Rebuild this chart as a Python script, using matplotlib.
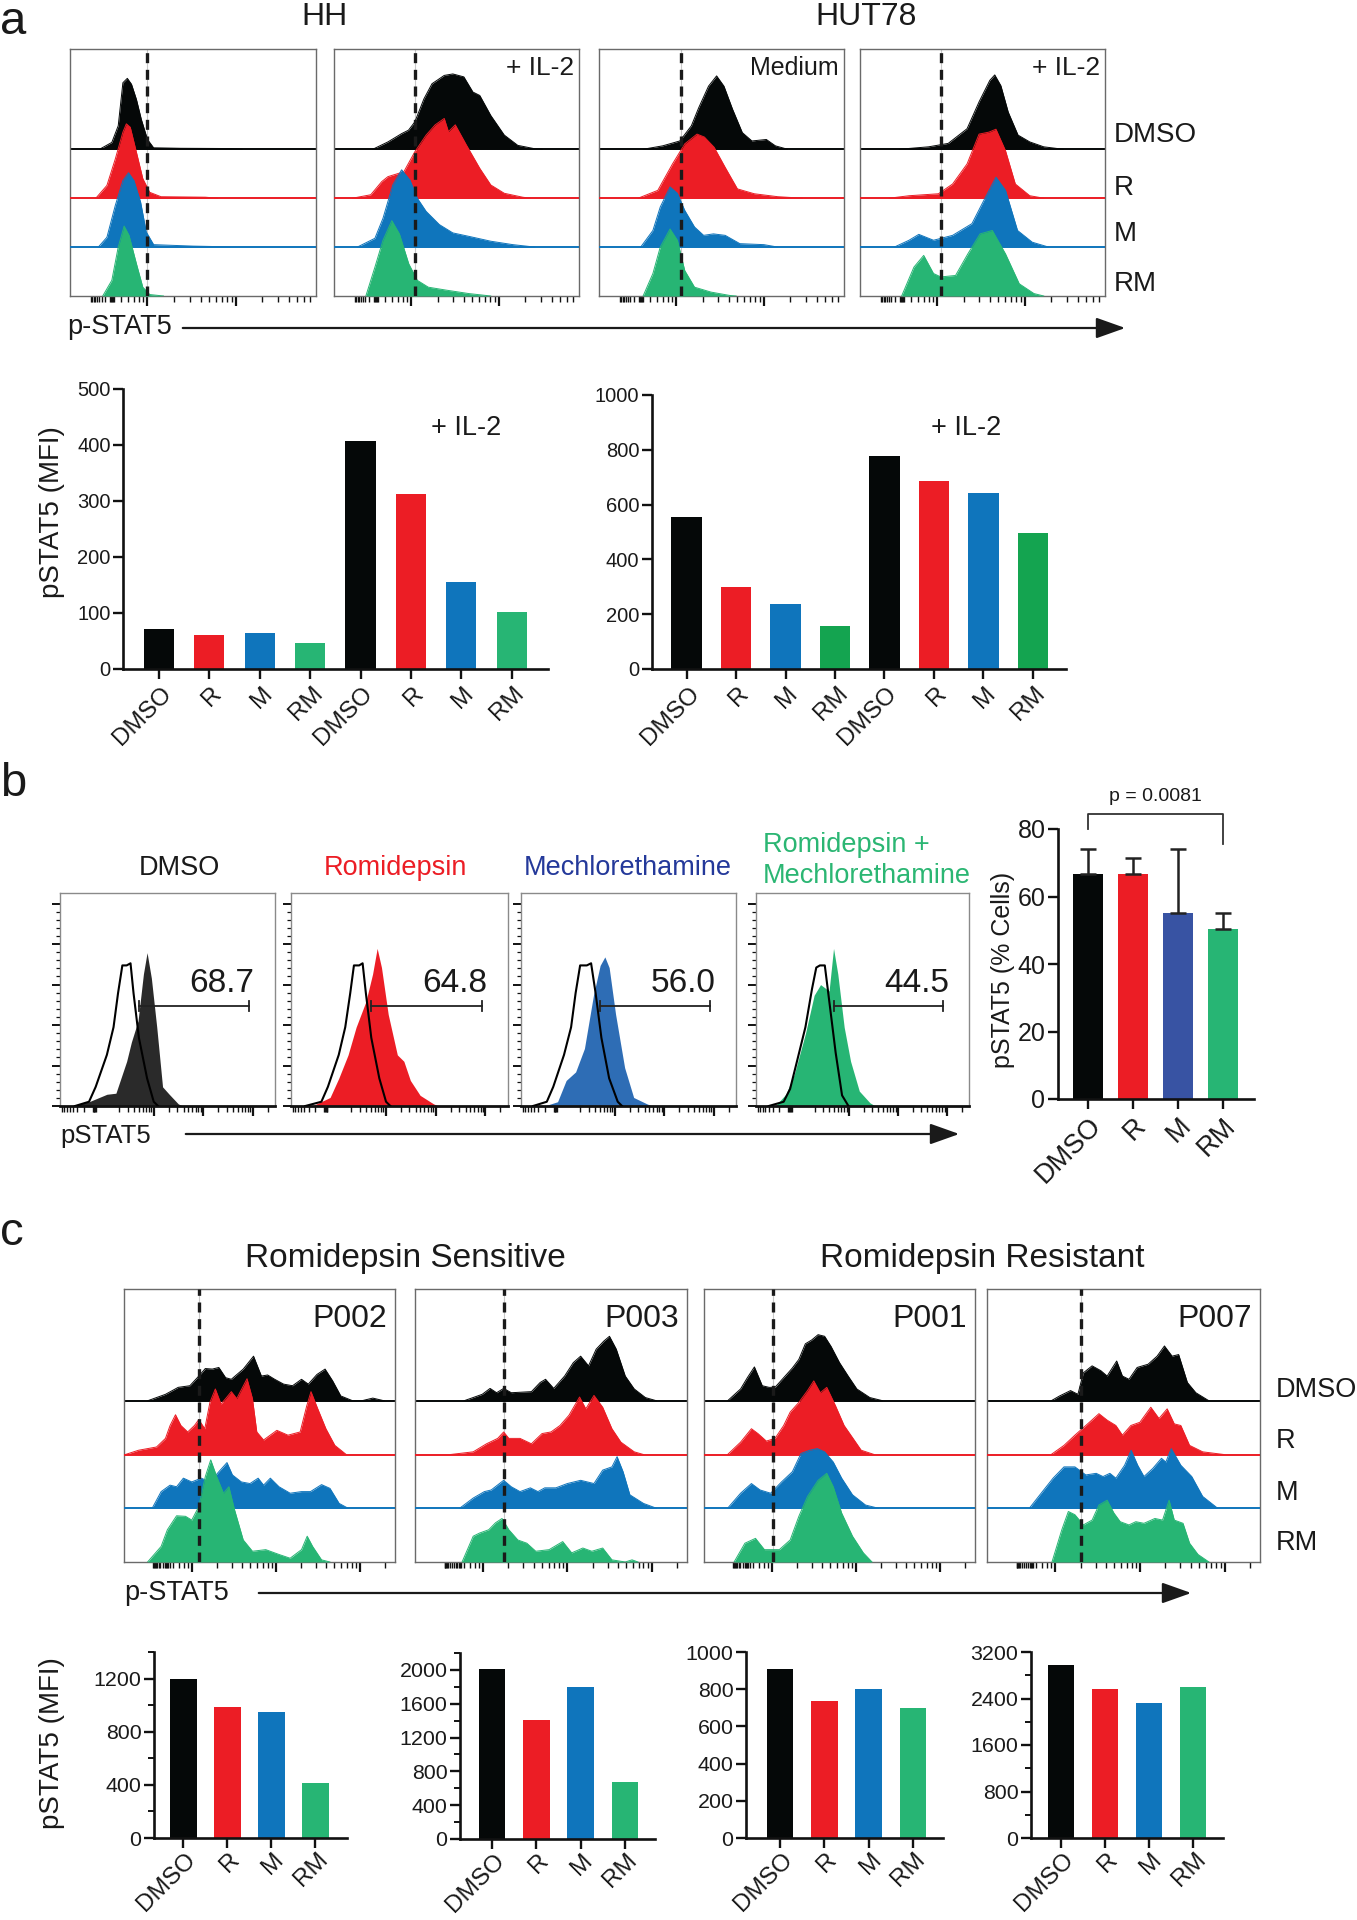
import numpy as np
import matplotlib
matplotlib.use('Agg')
import matplotlib.pyplot as plt
from matplotlib import font_manager as fm
from matplotlib.patches import FancyArrowPatch
from matplotlib.transforms import blended_transform_factory, ScaledTranslation

plt.rcParams['font.family'] = ['Liberation Sans', 'DejaVu Sans']
_names = {f.name for f in fm.fontManager.ttflist}
NARROW = 'Liberation Sans Narrow' if 'Liberation Sans Narrow' in _names else 'Liberation Sans'
NSCALE = 1.0 if NARROW == 'Liberation Sans Narrow' else 0.88

# ---------------- data ----------------
TREATMENTS = ['DMSO', 'R', 'M', 'RM']

# panel a bar values (MFI)
A_HH_MFI = [71, 60.5, 64, 46, 408, 312, 155, 102]
A_HUT_MFI = [556, 299, 237, 156, 779, 687, 642, 497]

# panel b
B_PCT = [66.8, 66.8, 55.0, 50.3]
B_ERR = [7.2, 4.7, 19.0, 4.7]
B_GATE_PCT = ['68.7', '64.8', '56.0', '44.5']
B_TITLES = ['DMSO', 'Romidepsin', 'Mechlorethamine', 'Romidepsin +\nMechlorethamine']
B_PVALUE = 'p = 0.0081'

# panel c bar values (MFI)
C_P002_MFI = [1197, 983, 950, 411]
C_P003_MFI = [2010, 1408, 1795, 670]
C_P001_MFI = [910, 737, 800, 698]
C_P007_MFI = [2981, 2561, 2319, 2596]
C_PATIENTS = ['P002', 'P003', 'P001', 'P007']

# histogram traces: (x fraction of box, height in row units)
A_HH_MED_DMSO = [(0.12,0),(0.17,0.14),(0.196,0.48),(0.215,1.36),(0.233,1.45),(0.25,1.33),(0.27,1.02),(0.29,0.61),(0.315,0.2),(0.34,0.03),(0.45,0.02),(0.65,0.015),(0.7,0)]
A_HH_MED_R = [(0.105,0),(0.15,0.26),(0.184,0.8),(0.215,1.35),(0.229,1.52),(0.245,1.45),(0.27,0.94),(0.296,0.4),(0.324,0.12),(0.37,0.03),(0.55,0.02),(0.6,0)]
A_HH_MED_M = [(0.115,0),(0.15,0.2),(0.184,0.85),(0.215,1.36),(0.238,1.52),(0.26,1.36),(0.287,0.92),(0.31,0.31),(0.34,0.05),(0.5,0.02),(0.6,0.01),(0.65,0)]
A_HH_MED_RM = [(0.133,0),(0.17,0.32),(0.196,1.0),(0.22,1.43),(0.24,1.24),(0.27,0.66),(0.296,0.18),(0.324,0.03),(0.38,0)]

A_HH_IL2_DMSO = [(0.158,0),(0.22,0.15),(0.276,0.32),(0.304,0.39),(0.33,0.56),(0.367,1.03),(0.4,1.34),(0.45,1.51),(0.485,1.54),(0.53,1.48),(0.567,1.17),(0.595,1.1),(0.64,0.69),(0.695,0.29),(0.75,0.08),(0.82,0.01),(0.85,0)]
A_HH_IL2_R = [(0.076,0),(0.15,0.07),(0.195,0.34),(0.22,0.44),(0.285,0.54),(0.33,0.95),(0.376,1.29),(0.413,1.5),(0.45,1.63),(0.467,1.36),(0.495,1.5),(0.54,1.09),(0.595,0.61),(0.64,0.27),(0.695,0.1),(0.77,0.02),(0.8,0)]
A_HH_IL2_M = [(0.095,0),(0.167,0.18),(0.2,0.59),(0.24,1.27),(0.276,1.58),(0.31,1.37),(0.34,1.0),(0.376,0.73),(0.43,0.46),(0.485,0.29),(0.55,0.22),(0.64,0.12),(0.73,0.05),(0.82,0)]
A_HH_IL2_RM = [(0.13,0),(0.167,0.59),(0.2,1.14),(0.236,1.54),(0.267,1.27),(0.305,0.66),(0.34,0.32),(0.385,0.18),(0.458,0.12),(0.55,0.05),(0.64,0)]

A_HUT_MED_DMSO = [(0.18,0),(0.26,0.07),(0.33,0.17),(0.377,0.48),(0.407,0.85),(0.447,1.29),(0.48,1.5),(0.51,1.29),(0.545,0.82),(0.585,0.34),(0.624,0.17),(0.683,0.2),(0.72,0.07),(0.77,0)]
A_HUT_MED_R = [(0.16,0),(0.24,0.16),(0.3,0.7),(0.35,1.11),(0.4,1.31),(0.43,1.25),(0.47,1.04),(0.515,0.63),(0.565,0.19),(0.634,0.09),(0.73,0.03),(0.83,0)]
A_HUT_MED_M = [(0.17,0),(0.22,0.34),(0.25,0.82),(0.29,1.23),(0.32,1.1),(0.35,0.75),(0.39,0.41),(0.427,0.24),(0.467,0.27),(0.515,0.24),(0.575,0.07),(0.673,0.05),(0.73,0)]
A_HUT_MED_RM = [(0.18,0),(0.22,0.46),(0.25,1.0),(0.29,1.37),(0.32,1.14),(0.35,0.52),(0.39,0.18),(0.457,0.08),(0.535,0.01),(0.56,0)]

A_HUT_IL2_DMSO = [(0.16,0),(0.28,0.05),(0.36,0.12),(0.437,0.42),(0.486,0.97),(0.53,1.41),(0.55,1.52),(0.575,1.3),(0.605,0.76),(0.645,0.29),(0.693,0.15),(0.75,0.05),(0.83,0)]
A_HUT_IL2_R = [(0.12,0),(0.2,0.05),(0.32,0.09),(0.378,0.29),(0.437,0.7),(0.486,1.31),(0.526,1.35),(0.555,1.41),(0.594,0.97),(0.634,0.29),(0.693,0.05),(0.75,0)]
A_HUT_IL2_M = [(0.14,0),(0.2,0.14),(0.24,0.26),(0.3,0.14),(0.378,0.24),(0.457,0.48),(0.506,0.96),(0.555,1.43),(0.594,1.16),(0.643,0.34),(0.703,0.1),(0.77,0)]
A_HUT_IL2_RM = [(0.17,0),(0.22,0.59),(0.26,0.83),(0.3,0.46),(0.33,0.39),(0.39,0.42),(0.44,0.86),(0.49,1.27),(0.54,1.34),(0.594,0.86),(0.65,0.25),(0.71,0.05),(0.75,0)]

A_DASH = [0.315, 0.33, 0.335, 0.33]
A_BOX_LABELS = ['', '+ IL-2', 'Medium', '+ IL-2']

# panel b: (x fraction, height fraction of box)
B_DMSO_FILL = [(0.05,0),(0.135,0.02),(0.218,0.055),(0.26,0.06),(0.31,0.21),(0.332,0.3),(0.363,0.4),(0.388,0.62),(0.405,0.72),(0.425,0.6),(0.45,0.37),(0.477,0.09),(0.508,0.055),(0.55,0.01),(0.57,0)]
B_DMSO_ISO = [(0.07,0),(0.135,0.02),(0.166,0.09),(0.218,0.24),(0.249,0.37),(0.27,0.53),(0.29,0.66),(0.31,0.66),(0.328,0.67),(0.342,0.53),(0.367,0.32),(0.405,0.13),(0.436,0.02),(0.456,0)]
B_ROMI_FILL = [(0.097,0),(0.18,0.04),(0.22,0.13),(0.263,0.24),(0.3,0.37),(0.345,0.49),(0.376,0.62),(0.397,0.74),(0.417,0.65),(0.448,0.43),(0.49,0.24),(0.52,0.21),(0.55,0.12),(0.595,0.05),(0.657,0.01),(0.68,0)]
B_ROMI_ISO = [(0.066,0),(0.14,0.02),(0.17,0.09),(0.22,0.24),(0.25,0.37),(0.273,0.53),(0.29,0.66),(0.314,0.66),(0.33,0.67),(0.345,0.53),(0.37,0.32),(0.407,0.13),(0.438,0.02),(0.458,0)]
B_MECH_FILL = [(0.108,0),(0.17,0.02),(0.21,0.12),(0.254,0.16),(0.295,0.27),(0.337,0.52),(0.368,0.66),(0.39,0.7),(0.41,0.65),(0.44,0.43),(0.482,0.18),(0.524,0.04),(0.586,0.01),(0.61,0)]
B_MECH_ISO = [(0.056,0),(0.12,0.02),(0.15,0.09),(0.2,0.24),(0.233,0.37),(0.254,0.53),(0.275,0.66),(0.306,0.66),(0.326,0.67),(0.347,0.53),(0.374,0.32),(0.41,0.13),(0.45,0.02),(0.47,0)]
B_RM_FILL = [(0.09,0),(0.14,0.055),(0.18,0.15),(0.232,0.34),(0.273,0.52),(0.303,0.57),(0.343,0.54),(0.364,0.74),(0.384,0.62),(0.414,0.37),(0.444,0.21),(0.485,0.07),(0.535,0.015),(0.56,0)]
B_RM_ISO = [(0.06,0),(0.13,0.02),(0.16,0.08),(0.19,0.2),(0.232,0.37),(0.263,0.55),(0.283,0.65),(0.3,0.66),(0.323,0.66),(0.343,0.5),(0.374,0.25),(0.404,0.05),(0.434,0)]

# panel c
C_P002_DMSO = [(0.087,0),(0.153,0.12),(0.2,0.25),(0.243,0.28),(0.276,0.46),(0.3,0.6),(0.326,0.59),(0.35,0.62),(0.375,0.43),(0.396,0.4),(0.44,0.59),(0.478,0.83),(0.507,0.46),(0.53,0.48),(0.556,0.4),(0.589,0.31),(0.622,0.28),(0.655,0.4),(0.68,0.31),(0.712,0.49),(0.742,0.59),(0.77,0.37),(0.8,0.09),(0.844,0),(0.877,0),(0.918,0.05),(0.96,0)]
C_P002_R = [(0.005,0),(0.054,0.08),(0.12,0.14),(0.153,0.3),(0.17,0.54),(0.19,0.74),(0.21,0.54),(0.235,0.42),(0.26,0.54),(0.276,0.65),(0.298,0.48),(0.317,0.97),(0.337,1.22),(0.358,0.94),(0.375,1.04),(0.396,1.17),(0.416,1.04),(0.454,1.41),(0.474,1.04),(0.49,0.42),(0.515,0.27),(0.564,0.45),(0.605,0.36),(0.65,0.42),(0.674,0.9),(0.69,1.17),(0.715,0.85),(0.745,0.48),(0.778,0.17),(0.82,0)]
C_P002_M = [(0.104,0),(0.137,0.31),(0.17,0.43),(0.194,0.4),(0.219,0.56),(0.25,0.49),(0.285,0.56),(0.317,0.49),(0.35,0.68),(0.38,0.85),(0.4,0.62),(0.433,0.49),(0.465,0.46),(0.495,0.56),(0.515,0.43),(0.54,0.56),(0.572,0.4),(0.613,0.28),(0.655,0.31),(0.688,0.31),(0.729,0.44),(0.76,0.37),(0.794,0.09),(0.827,0)]
C_P002_RM = [(0.087,0),(0.137,0.29),(0.16,0.6),(0.194,0.86),(0.227,0.85),(0.25,0.78),(0.276,1.03),(0.3,1.59),(0.32,1.9),(0.342,1.59),(0.367,1.28),(0.387,1.4),(0.408,0.97),(0.44,0.41),(0.474,0.2),(0.523,0.23),(0.572,0.14),(0.613,0.07),(0.655,0.23),(0.676,0.48),(0.696,0.29),(0.729,0.04),(0.76,0)]

C_P003_DMSO = [(0.18,0),(0.247,0.12),(0.276,0.23),(0.3,0.15),(0.326,0.23),(0.354,0.15),(0.428,0.17),(0.46,0.34),(0.48,0.4),(0.51,0.23),(0.55,0.46),(0.582,0.71),(0.609,0.83),(0.638,0.65),(0.666,0.96),(0.694,1.11),(0.715,1.2),(0.74,0.96),(0.773,0.46),(0.806,0.22),(0.847,0.06),(0.888,0)]
C_P003_R = [(0.13,0),(0.214,0.05),(0.263,0.2),(0.304,0.3),(0.326,0.42),(0.345,0.3),(0.386,0.3),(0.428,0.2),(0.467,0.39),(0.5,0.42),(0.533,0.54),(0.566,0.73),(0.605,1.07),(0.628,0.85),(0.658,1.1),(0.69,0.88),(0.724,0.48),(0.757,0.23),(0.806,0.05),(0.84,0)]
C_P003_M = [(0.164,0),(0.214,0.19),(0.255,0.31),(0.28,0.34),(0.326,0.52),(0.354,0.4),(0.386,0.31),(0.424,0.38),(0.452,0.31),(0.477,0.38),(0.518,0.38),(0.56,0.46),(0.609,0.52),(0.658,0.46),(0.69,0.71),(0.724,0.77),(0.743,0.96),(0.765,0.68),(0.79,0.25),(0.84,0.09),(0.888,0)]
C_P003_RM = [(0.173,0),(0.214,0.48),(0.238,0.54),(0.271,0.6),(0.296,0.73),(0.32,0.81),(0.345,0.6),(0.378,0.41),(0.411,0.35),(0.444,0.2),(0.493,0.23),(0.543,0.38),(0.576,0.17),(0.617,0.26),(0.65,0.2),(0.69,0.26),(0.724,0.04),(0.773,0),(0.798,0.04),(0.82,0)]

C_P001_DMSO = [(0.087,0),(0.135,0.22),(0.16,0.43),(0.186,0.63),(0.215,0.28),(0.24,0.25),(0.262,0.25),(0.294,0.43),(0.326,0.61),(0.35,0.77),(0.374,1.06),(0.397,1.13),(0.421,1.23),(0.445,1.2),(0.469,1.01),(0.5,0.71),(0.532,0.46),(0.564,0.22),(0.612,0.06),(0.66,0)]
C_P001_R = [(0.087,0),(0.135,0.23),(0.175,0.48),(0.199,0.39),(0.23,0.25),(0.262,0.3),(0.294,0.54),(0.318,0.79),(0.35,0.97),(0.382,1.19),(0.405,1.37),(0.429,1.15),(0.453,1.25),(0.485,0.91),(0.517,0.54),(0.55,0.3),(0.58,0.08),(0.628,0)]
C_P001_M = [(0.087,0),(0.135,0.28),(0.175,0.46),(0.207,0.34),(0.246,0.28),(0.286,0.49),(0.326,0.68),(0.358,1.02),(0.39,1.08),(0.418,1.11),(0.445,1.05),(0.477,0.86),(0.508,0.56),(0.548,0.25),(0.596,0.06),(0.644,0)]
C_P001_RM = [(0.111,0),(0.151,0.35),(0.19,0.44),(0.223,0.23),(0.278,0.23),(0.318,0.41),(0.35,0.85),(0.382,1.22),(0.421,1.52),(0.453,1.65),(0.477,1.4),(0.508,0.91),(0.548,0.48),(0.588,0.17),(0.62,0)]

C_P007_DMSO = [(0.235,0),(0.266,0.09),(0.306,0.19),(0.333,0.12),(0.353,0.52),(0.385,0.65),(0.417,0.56),(0.44,0.46),(0.475,0.74),(0.496,0.46),(0.52,0.4),(0.55,0.62),(0.59,0.68),(0.623,0.83),(0.65,1.02),(0.678,0.83),(0.702,0.86),(0.734,0.34),(0.765,0.15),(0.813,0)]
C_P007_R = [(0.235,0),(0.282,0.17),(0.322,0.36),(0.362,0.54),(0.41,0.76),(0.44,0.64),(0.472,0.54),(0.496,0.36),(0.527,0.54),(0.56,0.6),(0.6,0.88),(0.63,0.67),(0.66,0.85),(0.686,0.57),(0.71,0.54),(0.742,0.17),(0.79,0.05),(0.868,0)]
C_P007_M = [(0.155,0),(0.203,0.31),(0.242,0.56),(0.282,0.77),(0.322,0.77),(0.362,0.62),(0.4,0.65),(0.425,0.59),(0.45,0.65),(0.472,0.56),(0.504,0.8),(0.528,1.08),(0.552,0.8),(0.575,0.59),(0.607,0.74),(0.639,0.93),(0.655,0.86),(0.675,1.11),(0.71,0.8),(0.75,0.59),(0.79,0.22),(0.845,0)]
C_P007_RM = [(0.238,0),(0.274,0.6),(0.298,0.94),(0.322,0.88),(0.353,0.69),(0.385,0.78),(0.41,1.06),(0.44,1.15),(0.465,0.91),(0.488,0.75),(0.52,0.69),(0.545,0.75),(0.575,0.72),(0.615,0.81),(0.643,0.78),(0.667,1.15),(0.686,0.78),(0.718,0.72),(0.742,0.35),(0.773,0.14),(0.813,0)]

C_DASH = [0.278, 0.326, 0.254, 0.345]

# ---------------- style ----------------
K = '#050808'
RED = '#EC1D25'
BLUE = '#0F75BC'
GREEN = '#27B574'
DGREEN = '#14A450'
TXT = '#1a1a1a'
STACK_COLORS = [K, RED, BLUE, GREEN]
XLAB_FS = 17.5

W, H = 1357, 1920
fig = plt.figure(figsize=(W / 100, H / 100), dpi=100)


def px_axes(x0, y0, x1, y1):
    return fig.add_axes([x0 / W, 1 - y1 / H, (x1 - x0) / W, (y1 - y0) / H])


def ftext(x, y, s, **kw):
    kw.setdefault('color', TXT)
    fig.text(x / W, 1 - y / H, s, **kw)


def arrow(x0, x1, y):
    fig.add_artist(FancyArrowPatch((x0 / W, 1 - y / H), (x1 / W, 1 - y / H),
                                   transform=fig.transFigure,
                                   arrowstyle='-|>,head_length=0.9,head_width=0.32',
                                   mutation_scale=20, lw=1.6, color=TXT))


def flow_xticks(ax, zero, first, dw):
    majors = []
    v = first
    while v <= 1.0:
        majors.append(v)
        v += dw
    minors = []
    for m in [first - dw] + majors:
        for j in range(2, 10):
            p = m + dw * np.log10(j)
            if zero + 0.02 < p < 0.995:
                minors.append(p)
    for j in range(2, 10):
        p = zero - (first - zero) * 0.6 * np.log10(j)
        if p > 0.01:
            minors.append(p)
    minors += [zero - 0.008, zero - 0.004, zero, zero + 0.004, zero + 0.008]
    ax.set_xticks(majors)
    ax.set_xticks(minors, minor=True)
    ax.tick_params(axis='x', which='major', length=7, width=1.6, direction='out',
                   labelbottom=False, color='#111')
    ax.tick_params(axis='x', which='minor', length=4, width=1.0, direction='out', color='#111')
    ax.set_yticks([])


def stacked_box(rect, curves, dash_x, ytop, ticks):
    ax = px_axes(*rect)
    ax.set_xlim(0, 1)
    ax.set_ylim(0, ytop)
    for i, (curve, col) in enumerate(zip(curves, STACK_COLORS)):
        base = 3 - i
        xs = [p[0] for p in curve]
        hs = [base + p[1] for p in curve]
        ax.fill_between(xs, base, hs, color=col, lw=0, zorder=2 + i)
        ax.plot(xs, hs, color=col, lw=0.7, zorder=2 + i)
        if base > 0:
            ax.plot([0, 1], [base, base], color=col, lw=1.4, zorder=2 + i)
    ax.axvline(dash_x, color='#c8c8c8', lw=0.8, zorder=1.5)
    ax.axvline(dash_x, color='#1a1a1a', lw=2.4, ls=(0, (3.0, 2.0)), zorder=10)
    for s in ax.spines.values():
        s.set_color('#6a6a6a')
        s.set_linewidth(1.0)
    flow_xticks(ax, *ticks)
    return ax


def overlay_box(rect, fill_curve, iso_curve, fill_col, pct):
    ax = px_axes(*rect)
    ax.set_xlim(0, 1)
    ax.set_ylim(0, 1)
    xs = [p[0] for p in fill_curve]
    hs = [p[1] for p in fill_curve]
    ax.fill_between(xs, 0, hs, color=fill_col, lw=0, zorder=2)
    ax.plot([p[0] for p in iso_curve], [p[1] for p in iso_curve], color='black', lw=1.5, zorder=3)
    gx0, gx1, gy = 0.367, 0.88, 0.47
    ax.plot([gx0, gx1], [gy, gy], color='#222', lw=1.3, zorder=4)
    for gx in (gx0, gx1):
        ax.plot([gx, gx], [gy - 0.022, gy + 0.022], color='#222', lw=1.3, zorder=4)
    ax.text(0.905, gy + 0.03, pct, ha='right', va='bottom', fontsize=24, color=TXT, zorder=5)
    for k, s in ax.spines.items():
        s.set_color('#8a8a8a')
        s.set_linewidth(1.0)
    ax.spines['bottom'].set_color('#111')
    ax.spines['bottom'].set_linewidth(2.0)
    flow_xticks(ax, 0.16, 0.436, 0.23)
    ax.set_yticks([0.19 * k for k in range(6)])
    ax.set_yticks([0.19 * k + 0.038 * j for k in range(5) for j in range(1, 5)], minor=True)
    ax.tick_params(axis='y', which='major', length=6, width=1.4, direction='out', labelleft=False, color='#111')
    ax.tick_params(axis='y', which='minor', length=3, width=0.9, direction='out', color='#111')
    return ax


def bar_chart(rect, values, colors, ymax, majors, minors, xlim, width, tick_fs, xtick_fs,
              labels=None, dx=9, dy=21):
    ax = px_axes(*rect)
    x = np.arange(len(values))
    ax.bar(x, values, width=width, color=colors, edgecolor='none', zorder=2)
    ax.set_xlim(*xlim)
    ax.set_ylim(0, ymax)
    for k in ('top', 'right'):
        ax.spines[k].set_visible(False)
    for k in ('left', 'bottom'):
        ax.spines[k].set_linewidth(1.9)
        ax.spines[k].set_color('#111')
    ax.set_xticks(x)
    ax.set_xticklabels([])
    ax.set_yticks(majors)
    ax.set_yticklabels([str(v) for v in majors], fontfamily=NARROW, fontsize=tick_fs * NSCALE, color=TXT)
    if minors:
        ax.set_yticks(minors, minor=True)
    ax.tick_params(axis='both', which='major', length=7, width=1.7, direction='out', color='#111', pad=2)
    ax.tick_params(axis='y', which='minor', length=4, width=1.4, direction='out', color='#111')
    if labels is None:
        labels = [TREATMENTS[i % 4] for i in range(len(values))]
    tr = blended_transform_factory(ax.transData, ax.transAxes) + \
        ScaledTranslation(dx / 100, -dy / 100, fig.dpi_scale_trans)
    for i, lab in enumerate(labels):
        ax.text(i, 0, lab, transform=tr, rotation=45, ha='right', va='center',
                rotation_mode='anchor', fontsize=xtick_fs, color=TXT)
    return ax


# ---------------- panel a ----------------
ftext(0, 34, 'a', fontsize=34, va='baseline')
ftext(325, 25, 'HH', fontsize=23, ha='center', va='baseline')
ftext(866, 25, 'HUT78', fontsize=23, ha='center', va='baseline')

A_BOXES = [(70, 49, 316, 296), (334, 49, 579, 296), (599, 49, 844, 296), (860, 49, 1105, 296)]
A_CURVES = [
    [A_HH_MED_DMSO, A_HH_MED_R, A_HH_MED_M, A_HH_MED_RM],
    [A_HH_IL2_DMSO, A_HH_IL2_R, A_HH_IL2_M, A_HH_IL2_RM],
    [A_HUT_MED_DMSO, A_HUT_MED_R, A_HUT_MED_M, A_HUT_MED_RM],
    [A_HUT_IL2_DMSO, A_HUT_IL2_R, A_HUT_IL2_M, A_HUT_IL2_RM],
]
for rect, curves, dx_, lab in zip(A_BOXES, A_CURVES, A_DASH, A_BOX_LABELS):
    stacked_box(rect, curves, dx_, 5.05, (0.17, 0.315, 0.358))
    if lab:
        ftext(rect[2] - 5, 75, lab, fontsize=19 if lab != 'Medium' else 18, ha='right', va='baseline')
for lab, yb in zip(TREATMENTS, [142, 195, 241, 291]):
    ftext(1114, yb, lab, fontsize=20, ha='left', va='baseline')
ftext(67, 334, 'p-STAT5', fontsize=19.5, ha='left', va='baseline')
arrow(180, 1128, 328)

# panel a bars
ax = bar_chart((123, 389, 548, 669), A_HH_MFI, STACK_COLORS * 2, 500, [0, 100, 200, 300, 400, 500], None,
               (-0.714, 7.72), 0.6, 16.5, XLAB_FS)
ax.text(5.4, 430, '+ IL-2', fontsize=19.5, color=TXT, ha='left', va='center')
ftext(52, 512, 'pSTAT5 (MFI)', fontsize=20, rotation=90, ha='center', va='center')
ax = bar_chart((652, 395, 1066, 669), A_HUT_MFI, [K, RED, BLUE, DGREEN] * 2, 1000,
               [0, 200, 400, 600, 800, 1000], None, (-0.70, 7.67), 0.62, 16.5, XLAB_FS)
ax.text(4.95, 880, '+ IL-2', fontsize=19.5, color=TXT, ha='left', va='center')

# ---------------- panel b ----------------
ftext(0, 796, 'b', fontsize=34, va='baseline')
B_BOXES = [(60, 893, 275, 1106), (291, 893, 508, 1106), (521, 893, 736, 1106), (756, 893, 969, 1106)]
B_FILLS = [B_DMSO_FILL, B_ROMI_FILL, B_MECH_FILL, B_RM_FILL]
B_ISOS = [B_DMSO_ISO, B_ROMI_ISO, B_MECH_ISO, B_RM_ISO]
B_FILL_COLORS = ['#2a2a2a', RED, '#2E6DB5', GREEN]
B_TITLE_COLORS = [TXT, RED, '#24399A', '#2BB673']
for rect, fc, iso, col, pct in zip(B_BOXES, B_FILLS, B_ISOS, B_FILL_COLORS, B_GATE_PCT):
    overlay_box(rect, fc, iso, col, pct)
ftext(179, 875, B_TITLES[0], fontsize=19.5, ha='center', va='baseline', color=B_TITLE_COLORS[0])
ftext(395, 875, B_TITLES[1], fontsize=19.5, ha='center', va='baseline', color=B_TITLE_COLORS[1])
ftext(628, 875, B_TITLES[2], fontsize=19.5, ha='center', va='baseline', color=B_TITLE_COLORS[2])
t1, t2 = B_TITLES[3].split('\n')
ftext(763, 852, t1, fontsize=19.5, ha='left', va='baseline', color=B_TITLE_COLORS[3])
ftext(763, 883, t2, fontsize=19.5, ha='left', va='baseline', color=B_TITLE_COLORS[3])
ftext(60, 1143, 'pSTAT5', fontsize=18.5, ha='left', va='baseline')
arrow(183, 962, 1134)

ax = bar_chart((1058, 829, 1254, 1099), B_PCT, [K, RED, '#3853A3', GREEN], 80, [0, 20, 40, 60, 80], None,
               (-0.667, 3.69), 0.67, 20.5, 19.5, dy=23)
ax.errorbar(np.arange(4), B_PCT, yerr=[np.zeros(4), B_ERR], fmt='none', ecolor='#222',
            elinewidth=1.8, capsize=6, capthick=1.8, zorder=3)
ax.plot([0, 0, 3, 3], [80, 84.4, 84.4, 75.6], color='#333', lw=1.3, clip_on=False)
ax.text(1.5, 87, B_PVALUE, ha='center', va='bottom', fontsize=14, color=TXT, clip_on=False)
ftext(1003, 970, 'pSTAT5 (% Cells)', fontsize=18, rotation=90, ha='center', va='center')

# ---------------- panel c ----------------
ftext(0, 1245, 'c', fontsize=34, va='baseline')
ftext(405, 1267, 'Romidepsin Sensitive', fontsize=24, ha='center', va='baseline')
ftext(982, 1267, 'Romidepsin Resistant', fontsize=24, ha='center', va='baseline')
C_BOXES = [(124, 1289, 395, 1562), (415, 1289, 687, 1562), (704, 1289, 975, 1562), (987, 1289, 1260, 1562)]
C_CURVES = [
    [C_P002_DMSO, C_P002_R, C_P002_M, C_P002_RM],
    [C_P003_DMSO, C_P003_R, C_P003_M, C_P003_RM],
    [C_P001_DMSO, C_P001_R, C_P001_M, C_P001_RM],
    [C_P007_DMSO, C_P007_R, C_P007_M, C_P007_RM],
]
for rect, curves, dx_, lab in zip(C_BOXES, C_CURVES, C_DASH, C_PATIENTS):
    stacked_box(rect, curves, dx_, 5.08, (0.16, 0.25, 0.31))
    ftext(rect[2] - 8, 1327, lab, fontsize=23, ha='right', va='baseline')
for lab, yb in zip(TREATMENTS, [1397, 1448, 1500, 1550]):
    ftext(1276, yb, lab, fontsize=19.5, ha='left', va='baseline')
ftext(124, 1600, 'p-STAT5', fontsize=19.5, ha='left', va='baseline')
arrow(256, 1194, 1593)

ftext(52, 1743, 'pSTAT5 (MFI)', fontsize=20, rotation=90, ha='center', va='center')
bar_chart((154, 1652, 347, 1838), C_P002_MFI, STACK_COLORS, 1400, [0, 400, 800, 1200], [200, 600, 1000, 1400],
          (-0.67, 3.72), 0.6, 17.5, XLAB_FS, dy=18)
bar_chart((460, 1653, 655, 1839), C_P003_MFI, STACK_COLORS, 2200, [0, 400, 800, 1200, 1600, 2000],
          [200, 600, 1000, 1400, 1800, 2200], (-0.72, 3.68), 0.6, 17.5, XLAB_FS, dy=18)
bar_chart((746, 1652, 943, 1838), C_P001_MFI, STACK_COLORS, 1000, [0, 200, 400, 600, 800, 1000], None,
          (-0.77, 3.68), 0.6, 17.5, XLAB_FS, dy=18)
bar_chart((1031, 1652, 1223, 1838), C_P007_MFI, STACK_COLORS, 3200, [0, 800, 1600, 2400, 3200],
          [400, 1200, 2000, 2800], (-0.68, 3.68), 0.6, 17.5, XLAB_FS, dy=18)

fig.savefig('out.png', dpi=100)
